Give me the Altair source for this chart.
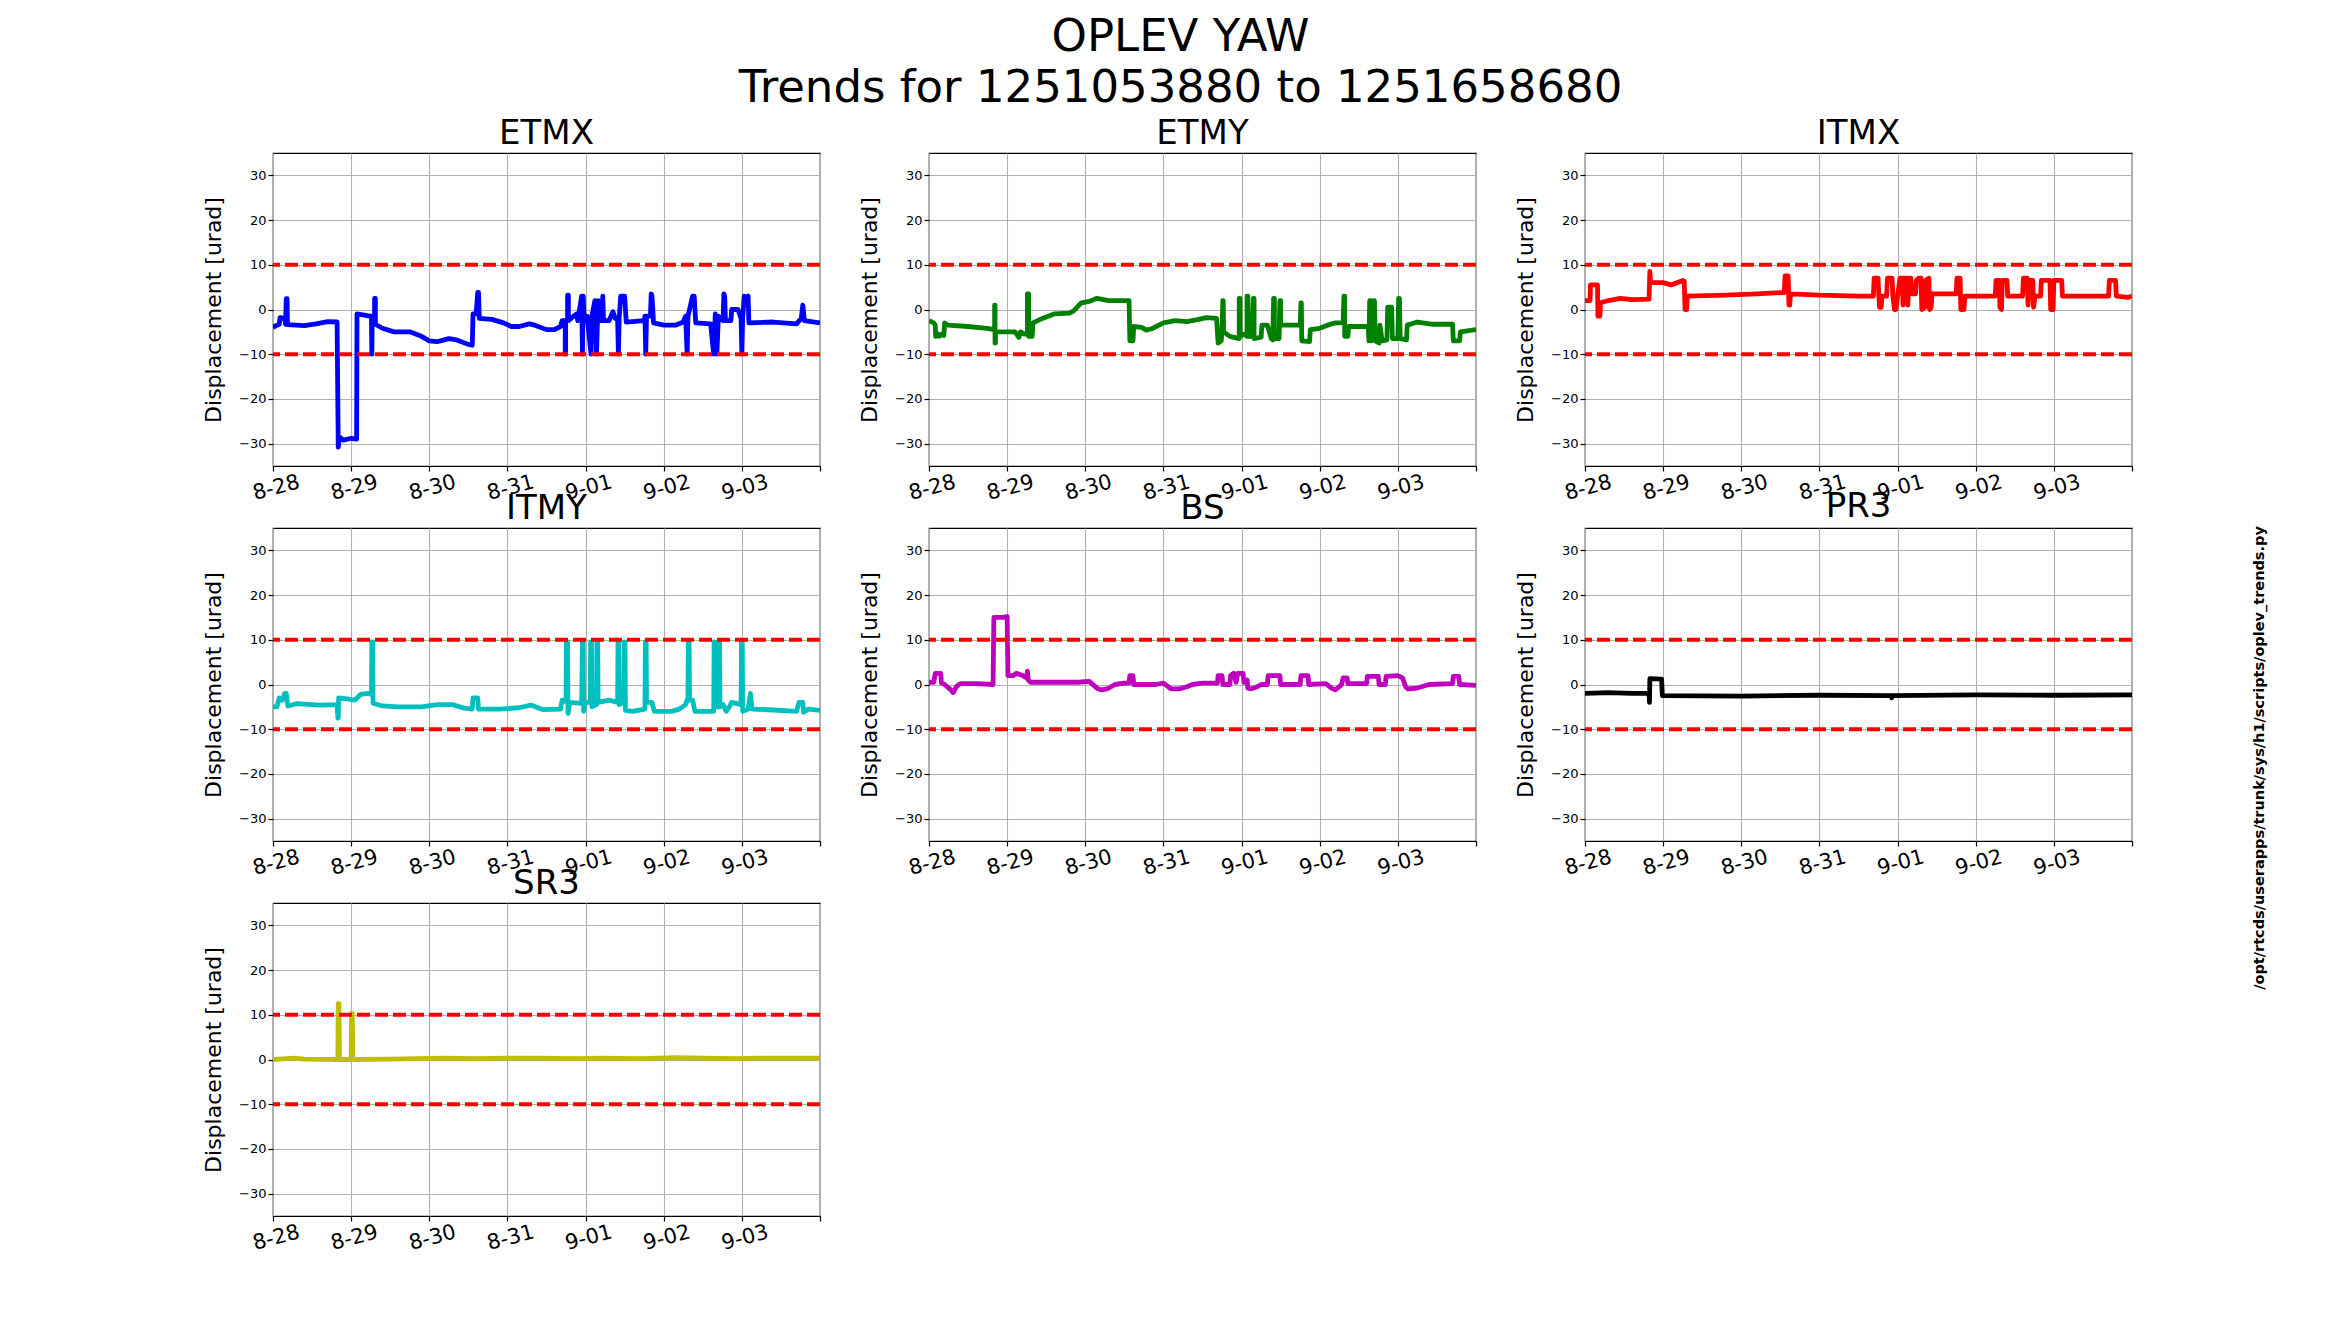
import altair as alt
import pandas as pd

FONT = "DejaVu Sans"

# x axis: days since start of the trend window (1251053880 .. 1251658680)
x_tick_values = [0, 1, 2, 3, 4, 5, 6, 7]
x_tick_labels = ["8-28", "8-29", "8-30", "8-31", "9-01", "9-02", "9-03", ""]
y_tick_values = [-30, -20, -10, 0, 10, 20, 30]
limit_values = [10, -10]

ETMX = [(0.00, -4.0), (0.05, -3.5), (0.08, -3.3), (0.09, -1.8), (0.15, -2.0), (0.16, -3.3),
        (0.17, 2.4), (0.18, 2.4), (0.185, -3.4), (0.40, -3.6), (0.55, -3.2), (0.70, -2.7),
        (0.82, -2.8), (0.825, -12.0), (0.835, -30.8), (0.85, -28.5), (0.90, -29.2), (1.00, -28.8),
        (1.07, -29.0), (1.075, -1.0), (1.24, -1.5), (1.26, -1.5), (1.265, -10.0), (1.27, -1.8),
        (1.30, -1.8), (1.30, 2.5), (1.31, 2.5), (1.31, -3.3), (1.40, -4.2), (1.55, -5.0),
        (1.75, -5.0), (1.90, -6.0), (2.00, -7.0), (2.10, -7.2), (2.25, -6.5), (2.35, -6.8),
        (2.50, -7.8), (2.55, -8.0), (2.56, -1.0), (2.60, -1.0), (2.62, 3.8), (2.63, 3.8),
        (2.64, -2.0), (2.80, -2.2), (2.95, -3.0), (3.05, -3.8), (3.15, -3.8), (3.28, -3.2),
        (3.35, -3.5), (3.50, -4.5), (3.60, -4.5), (3.68, -3.8), (3.70, -2.5), (3.74, -2.5),
        (3.74, -10.0), (3.745, -10.0), (3.745, -2.5), (3.77, -2.5), (3.77, 3.2), (3.78, 3.2),
        (3.78, -2.5), (3.88, -1.0), (3.90, -2.5), (3.95, 3.0), (3.96, -10.0), (3.97, 3.0),
        (3.98, -2.0), (4.02, -1.5), (4.07, -10.0), (4.08, -1.5), (4.12, 2.0), (4.14, -10.0),
        (4.16, 2.0), (4.17, -2.5), (4.21, -2.5), (4.22, 3.0), (4.23, -2.5), (4.30, -2.5),
        (4.35, -0.5), (4.38, -2.0), (4.41, -2.0), (4.42, -10.0), (4.43, -2.0), (4.45, 3.0),
        (4.50, 3.0), (4.52, -2.8), (4.75, -2.5), (4.76, -1.5), (4.77, -10.0), (4.78, -1.5),
        (4.83, -1.5), (4.84, 3.5), (4.85, 3.0), (4.87, -3.0), (5.00, -3.5), (5.15, -3.5),
        (5.25, -2.8), (5.28, -1.5), (5.30, -10.0), (5.31, -1.5), (5.37, 3.0), (5.39, 3.0),
        (5.41, -3.0), (5.60, -3.2), (5.64, -10.0), (5.66, -1.0), (5.68, -10.0), (5.70, -1.5),
        (5.76, -2.5), (5.77, 3.5), (5.78, 3.0), (5.79, -2.5), (5.86, -2.5), (5.87, 0.0),
        (5.95, 0.0), (5.99, -2.0), (6.00, -10.0), (6.01, -2.0), (6.03, 3.0), (6.06, 2.5),
        (6.08, 3.0), (6.09, -3.0), (6.40, -2.8), (6.70, -3.2), (6.76, -2.0), (6.78, 1.0),
        (6.80, -2.5), (7.00, -3.0)]

ETMY = [(0.00, -2.5), (0.06, -3.0), (0.08, -3.5), (0.085, -6.0), (0.12, -5.5), (0.13, -6.0),
        (0.17, -5.5), (0.19, -5.8), (0.20, -3.0), (0.24, -3.5), (0.50, -3.8), (0.74, -4.2),
        (0.84, -4.5), (0.84, 1.0), (0.845, 1.0), (0.845, -7.5), (0.85, -7.5), (0.85, -5.0),
        (1.00, -5.0), (1.10, -5.0), (1.15, -6.2), (1.17, -5.0), (1.22, -5.5), (1.26, -5.5),
        (1.26, 3.5), (1.275, 3.5), (1.275, -6.0), (1.32, -6.0), (1.33, -3.0), (1.45, -2.0),
        (1.60, -1.0), (1.80, -0.8), (1.85, -0.3), (1.95, 1.5), (2.05, 1.8), (2.15, 2.5),
        (2.30, 2.0), (2.56, 2.0), (2.57, -7.0), (2.61, -7.0), (2.62, -3.8), (2.72, -4.0),
        (2.78, -4.6), (2.85, -4.3), (3.00, -3.0), (3.15, -2.5), (3.30, -2.7), (3.45, -2.2),
        (3.55, -1.8), (3.68, -2.0), (3.70, -7.5), (3.74, -7.0), (3.75, -4.5), (3.76, 2.0),
        (3.765, 2.0), (3.77, -5.0), (3.85, -6.0), (3.97, -6.5), (3.97, 2.5), (3.98, 2.5),
        (3.98, -6.0), (4.03, -5.5), (4.07, -6.0), (4.07, 3.0), (4.08, 3.0), (4.08, -6.0),
        (4.13, -6.0), (4.15, 2.5), (4.16, 2.5), (4.16, -6.5), (4.25, -6.2), (4.26, -3.5),
        (4.33, -3.5), (4.38, -6.5), (4.40, -6.8), (4.41, 2.5), (4.42, 2.5), (4.42, -6.5),
        (4.48, -6.5), (4.49, 2.0), (4.50, 2.0), (4.50, -3.5), (4.75, -3.5), (4.76, 1.5),
        (4.765, 1.5), (4.77, -7.0), (4.87, -7.2), (4.88, -4.5), (5.00, -4.2), (5.10, -3.5),
        (5.20, -3.0), (5.30, -3.0), (5.31, 3.0), (5.32, 3.0), (5.32, -6.0), (5.36, -6.0),
        (5.37, -3.8), (5.62, -3.8), (5.63, -7.0), (5.64, 2.0), (5.66, 2.0), (5.66, -7.0),
        (5.70, 2.0), (5.71, -7.0), (5.76, -7.5), (5.77, -3.5), (5.80, -7.0), (5.86, -6.8),
        (5.87, 0.5), (5.92, 0.5), (5.93, -6.5), (6.00, -6.5), (6.01, 2.5), (6.02, 2.5),
        (6.03, -6.5), (6.11, -6.8), (6.12, -3.5), (6.25, -2.8), (6.45, -3.3), (6.70, -3.3),
        (6.71, -7.0), (6.79, -7.0), (6.80, -5.0), (7.00, -4.5)]

ITMX = [(0.00, 2.0), (0.065, 2.0), (0.07, 5.5), (0.16, 5.5), (0.165, -1.5), (0.19, -1.5),
        (0.20, 1.5), (0.30, 2.0), (0.45, 2.5), (0.60, 2.2), (0.82, 2.3), (0.83, 8.5),
        (0.84, 6.0), (1.00, 6.0), (1.10, 5.5), (1.25, 6.5), (1.27, 6.3), (1.28, 0.0),
        (1.30, 0.0), (1.31, 3.0), (1.80, 3.2), (2.20, 3.5), (2.55, 3.8), (2.56, 7.5),
        (2.60, 7.5), (2.61, 1.0), (2.62, 1.0), (2.63, 3.5), (3.00, 3.2), (3.50, 3.0),
        (3.69, 3.0), (3.70, 7.0), (3.75, 7.0), (3.76, 3.0), (3.77, 0.5), (3.79, 0.5),
        (3.80, 3.0), (3.86, 3.0), (3.87, 7.0), (3.93, 7.0), (3.94, 3.0), (3.96, 0.0),
        (3.98, 0.0), (4.00, 3.0), (4.03, 7.0), (4.06, 7.0), (4.07, 1.0), (4.08, 7.0),
        (4.12, 7.0), (4.13, 1.0), (4.15, 7.0), (4.17, 7.0), (4.18, 3.5), (4.23, 3.5),
        (4.24, 6.5), (4.27, 7.0), (4.30, 7.0), (4.31, 0.0), (4.35, 0.5), (4.36, 6.5),
        (4.40, 7.0), (4.41, 0.0), (4.43, 0.5), (4.44, 3.5), (4.75, 3.5), (4.76, 7.0),
        (4.80, 7.0), (4.81, 0.0), (4.85, 0.0), (4.86, 3.0), (5.15, 3.0), (5.25, 3.0),
        (5.26, 6.5), (5.30, 6.5), (5.31, 0.5), (5.33, 0.0), (5.34, 6.5), (5.40, 6.5),
        (5.41, 3.0), (5.60, 3.0), (5.61, 7.0), (5.66, 7.0), (5.67, 1.0), (5.69, 6.5),
        (5.73, 6.5), (5.74, 0.5), (5.76, 3.0), (5.83, 3.0), (5.84, 6.5), (5.95, 6.5),
        (5.96, 0.0), (5.99, 0.0), (6.00, 6.5), (6.10, 6.5), (6.11, 3.0), (6.70, 3.0),
        (6.71, 6.5), (6.79, 6.5), (6.80, 3.0), (6.95, 2.7), (7.00, 3.0)]

ITMY = [(0.00, -5.0), (0.05, -5.0), (0.08, -3.0), (0.12, -3.5), (0.15, -2.0), (0.17, -2.0),
        (0.19, -4.8), (0.30, -4.3), (0.60, -4.6), (0.82, -4.5), (0.83, -7.5), (0.835, -7.5),
        (0.84, -3.0), (0.95, -3.2), (1.05, -3.5), (1.12, -2.2), (1.22, -2.0), (1.26, -2.2),
        (1.265, 9.5), (1.275, 9.5), (1.28, -4.2), (1.40, -4.8), (1.60, -5.0), (1.90, -5.0),
        (2.10, -4.5), (2.30, -4.5), (2.45, -5.3), (2.55, -5.5), (2.56, -3.0), (2.62, -3.0),
        (2.63, -5.5), (2.90, -5.5), (3.15, -5.2), (3.30, -4.6), (3.45, -5.6), (3.68, -5.5),
        (3.70, -3.5), (3.75, -3.8), (3.755, 9.5), (3.77, 9.5), (3.775, -6.5), (3.80, -4.0),
        (3.95, -4.2), (3.96, 9.5), (3.97, 9.5), (3.975, -6.0), (4.00, -4.0), (4.06, -4.0),
        (4.065, 9.5), (4.075, 9.5), (4.08, -5.0), (4.14, -4.5), (4.145, 9.5), (4.155, 9.5),
        (4.16, -4.0), (4.30, -3.5), (4.41, -4.0), (4.415, 9.5), (4.425, 9.5), (4.43, -4.5),
        (4.49, -4.0), (4.495, 9.5), (4.505, 9.5), (4.51, -5.8), (4.60, -6.0), (4.76, -5.5),
        (4.765, 9.5), (4.775, 9.5), (4.78, -4.0), (4.85, -4.0), (4.88, -6.0), (5.10, -6.0),
        (5.20, -5.5), (5.28, -4.5), (5.31, -3.0), (5.315, 9.5), (5.325, 9.5), (5.33, -3.5),
        (5.37, -3.5), (5.40, -6.0), (5.64, -6.0), (5.645, 9.5), (5.655, 9.5), (5.66, -5.0),
        (5.70, -5.0), (5.705, 9.5), (5.715, 9.5), (5.72, -5.0), (5.76, -4.5), (5.80, -6.0),
        (5.84, -5.0), (5.87, -4.0), (5.99, -4.5), (5.995, 9.5), (6.005, 9.5), (6.01, -6.0),
        (6.08, -5.5), (6.11, -2.0), (6.13, -5.5), (6.40, -5.7), (6.70, -6.0), (6.73, -4.0),
        (6.78, -4.0), (6.79, -6.2), (6.85, -5.5), (7.00, -5.8)]

BS = [(0.00, 0.5), (0.06, 0.5), (0.08, 2.5), (0.15, 2.5), (0.16, 0.3), (0.20, 0.0),
      (0.28, -1.2), (0.31, -1.8), (0.35, -0.5), (0.40, 0.2), (0.60, 0.2), (0.82, 0.0),
      (0.83, 15.0), (0.95, 15.0), (1.00, 15.2), (1.01, 2.0), (1.08, 2.0), (1.12, 2.5),
      (1.20, 2.0), (1.25, 1.5), (1.26, 3.0), (1.27, 1.0), (1.30, 0.5), (1.60, 0.5),
      (1.90, 0.5), (2.05, 0.7), (2.15, -0.8), (2.20, -1.2), (2.28, -1.0), (2.38, 0.0),
      (2.50, 0.3), (2.56, 0.3), (2.57, 2.0), (2.61, 2.0), (2.62, 0.0), (2.90, 0.0),
      (3.00, 0.3), (3.10, -1.0), (3.20, -1.0), (3.30, -0.5), (3.37, 0.0), (3.50, 0.3),
      (3.69, 0.3), (3.70, 2.0), (3.75, 2.0), (3.76, 0.0), (3.85, 0.0), (3.86, 2.0),
      (3.90, 2.5), (3.93, 0.5), (3.95, 2.5), (4.02, 2.5), (4.03, 0.5), (4.07, 1.0),
      (4.08, -0.8), (4.12, -1.0), (4.20, -0.5), (4.25, 0.0), (4.33, 0.0), (4.34, 2.0),
      (4.49, 2.0), (4.50, 0.0), (4.75, 0.0), (4.76, 2.0), (4.85, 2.0), (4.86, 0.0),
      (5.08, 0.2), (5.15, -0.8), (5.20, -1.2), (5.25, -0.5), (5.28, 0.0), (5.30, 1.5),
      (5.35, 1.5), (5.36, 0.2), (5.60, 0.2), (5.61, 1.8), (5.75, 1.8), (5.76, 0.0),
      (5.84, 0.0), (5.85, 1.8), (6.00, 2.0), (6.06, 1.5), (6.10, -0.5), (6.13, -1.0),
      (6.25, -0.8), (6.40, 0.0), (6.70, 0.2), (6.71, 1.8), (6.78, 1.8), (6.79, 0.0),
      (7.00, -0.2)]

PR3 = [(0.00, -2.0), (0.30, -1.8), (0.60, -2.0), (0.82, -2.0), (0.825, -4.0), (0.83, 1.3),
       (0.98, 1.2), (0.99, -2.5), (2.00, -2.6), (3.00, -2.4), (3.92, -2.5), (3.925, -3.0),
       (3.93, -2.5), (5.00, -2.3), (6.00, -2.4), (7.00, -2.3)]

SR3 = [(0.00, 0.0), (0.27, 0.3), (0.40, 0.1), (0.83, 0.0), (0.835, 12.5), (0.845, 12.5),
       (0.85, 0.0), (1.00, 0.0), (1.005, 10.3), (1.015, 10.3), (1.02, 0.0), (1.50, 0.1),
       (2.20, 0.3), (2.60, 0.2), (3.00, 0.3), (3.40, 0.3), (3.90, 0.2), (4.20, 0.3),
       (4.70, 0.2), (5.17, 0.4), (5.50, 0.3), (5.93, 0.2), (6.20, 0.3), (7.00, 0.3)]

SERIES = [("ETMX", ETMX, "#0000ff"), ("ETMY", ETMY, "#008000"), ("ITMX", ITMX, "#ff0000"),
          ("ITMY", ITMY, "#00bfbf"), ("BS", BS, "#bf00bf"), ("PR3", PR3, "#000000"),
          ("SR3", SR3, "#bfbf00")]

SCRIPT_PATH = "/opt/rtcds/userapps/trunk/sys/h1/scripts/oplev_trends.py"

W, H = 547, 313

label_expr = "[" + ",".join("'%s'" % s for s in x_tick_labels) + "][datum.value]"


def panel(name, pts, color, with_path=False):
    df = pd.DataFrame({"t": [p[0] for p in pts], "v": [p[1] for p in pts],
                       "i": list(range(len(pts)))})
    x = alt.X("t:Q", scale=alt.Scale(domain=[0, 7], nice=False, zero=False),
              axis=alt.Axis(values=x_tick_values, labelExpr=label_expr, title=None,
                            labelAngle=-15, labelFontSize=21, labelAlign="center",
                            labelBaseline="top", labelPadding=6))
    y = alt.Y("v:Q", scale=alt.Scale(domain=[-35, 35], nice=False, zero=False),
              axis=alt.Axis(values=y_tick_values, title="Displacement [urad]",
                            labelFontSize=13, titleFontSize=22, titlePadding=13))
    line = alt.Chart(df).mark_line(color=color, strokeWidth=4.8, clip=True,
                                   strokeJoin="round").encode(x=x, y=y, order="i:Q")
    lim = alt.Chart(pd.DataFrame({"y": limit_values})).mark_rule(
        color="#ff0000", strokeWidth=4, strokeDash=[13, 5]).encode(y="y:Q")
    layers = [line, lim]
    if with_path:
        txt = alt.Chart(pd.DataFrame({"s": [SCRIPT_PATH]})).mark_text(
            angle=270, align="center", baseline="middle", font=FONT, fontSize=14.5,
            fontWeight="bold", color="black").encode(
            text="s:N", x=alt.value(675), y=alt.value(230))
        layers.append(txt)
    return alt.layer(*layers).properties(
        width=W, height=H,
        title=alt.TitleParams(name, fontSize=34, offset=2, font=FONT,
                              fontWeight="normal", color="black"))


panels = [panel(n, d, c, with_path=(n == "PR3")) for n, d, c in SERIES]

chart = alt.concat(*panels, columns=3, spacing=alt.RowColnumber(row=62, column=109),
                   bounds="flush").properties(
    title=alt.TitleParams(["OPLEV YAW", "Trends for 1251053880 to 1251658680"],
                          fontSize=45, lineHeight=51, font=FONT, fontWeight="normal",
                          anchor="middle", color="black", offset=5, dx=-54),
    padding={"left": 193, "top": 7, "right": 5, "bottom": 5},
    background="white",
).configure_view(stroke="black", strokeWidth=1.2).configure_axis(
    labelFont=FONT, titleFont=FONT, titleFontWeight="normal", labelColor="black",
    titleColor="black", gridColor="#b0b0b0", gridWidth=1.1, domain=False,
    tickColor="black", tickSize=5, tickWidth=1.2
)

chart.save("out.html", embed_options={"renderer": "svg", "actions": False})
